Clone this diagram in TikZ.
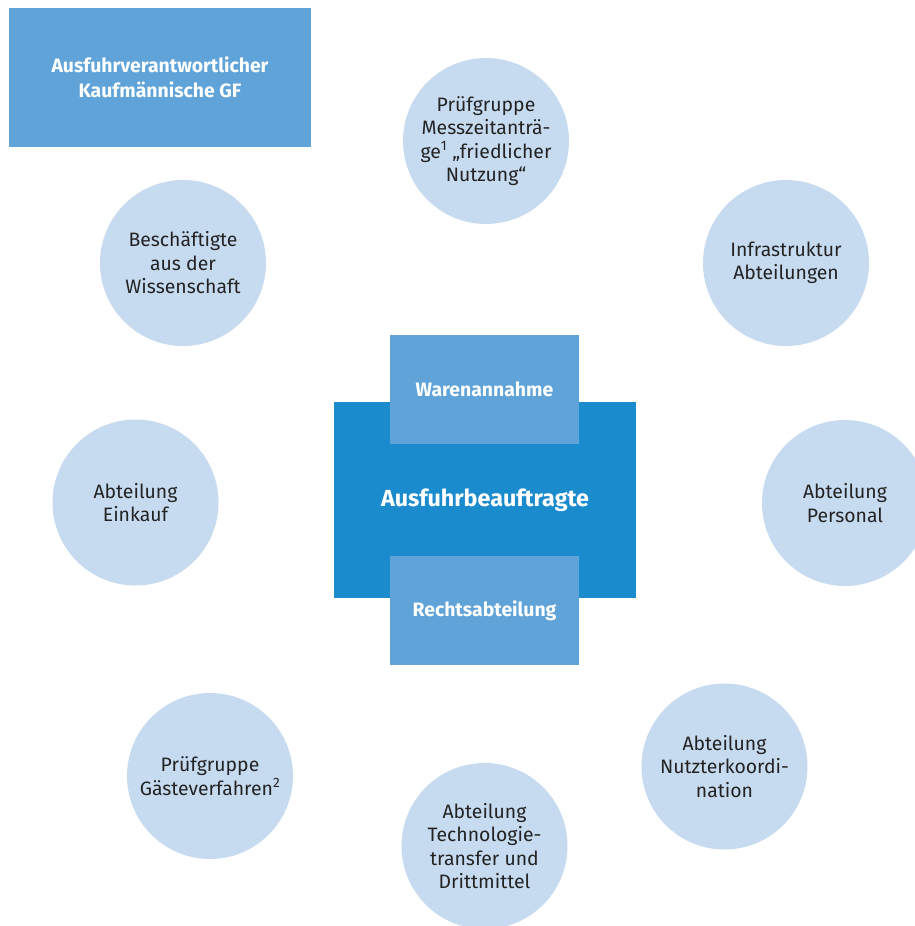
\documentclass[tikz,border=0pt]{standalone}
\usepackage{fontspec}
\setmainfont{Fira Sans}
\definecolor{circlebl}{HTML}{C6DBF0}
\definecolor{midbl}{HTML}{5FA3D8}
\definecolor{darkbl}{HTML}{1A8BCD}
\definecolor{textdark}{HTML}{232323}
\begin{document}
\begin{tikzpicture}[x=1pt,y=-1pt,
  circ/.style={circle, fill=circlebl, minimum size=166pt, inner sep=0pt, align=center,
    text=textdark, font=\fontsize{19.4}{23.5}\selectfont},
  bluebox/.style={rectangle, fill=midbl, inner sep=0pt, text=white, align=center,
    font=\bfseries\fontsize{19.4}{25}\selectfont},
  mainbox/.style={rectangle, fill=darkbl, inner sep=0pt, text=white, align=center,
    font=\bfseries\fontsize{23.3}{28}\selectfont}]
\useasboundingbox (0,0) rectangle (915,926);
\clip (0,0) rectangle (915,926);
% top-left box
\node[bluebox, minimum width=302pt, minimum height=139pt] (gf) at (160,77.5)
  {Ausfuhrverantwortlicher\\Kaufmännische GF};
% center
\node[mainbox, minimum width=302pt, minimum height=196pt] (main) at (485,500)
  {Ausfuhrbeauftragte};
\node[bluebox, minimum width=189pt, minimum height=109pt] (waren) at (484.5,389.5)
  {Warenannahme};
\node[bluebox, minimum width=189pt, minimum height=109pt] (recht) at (484.5,610.5)
  {Rechtsabteilung};
% circles
\node[circ] (pruef1) at (486,141) {Prüfgruppe\\Messzeitanträ-\\ge\textsuperscript{1} „friedlicher\\Nutzung“};
\node[circ] (besch) at (183,263) {Beschäftigte\\aus der\\Wissenschaft};
\node[circ] (infra) at (786,263) {Infrastruktur\\Abteilungen};
\node[circ] (einkauf) at (135.5,502.5) {Abteilung\\Einkauf};
\node[circ] (personal) at (845,503) {Abteilung\\Personal};
\node[circ] (gaeste) at (210,776) {Prüfgruppe\\Gästeverfahren\textsuperscript{2}};
\node[circ] (techno) at (484.5,846) {Abteilung\\Technologie-\\transfer und\\Drittmittel};
\node[circ] (nutzer) at (724.5,766.5) {Abteilung\\Nutzterkoordi-\\nation};
\end{tikzpicture}
\end{document}
